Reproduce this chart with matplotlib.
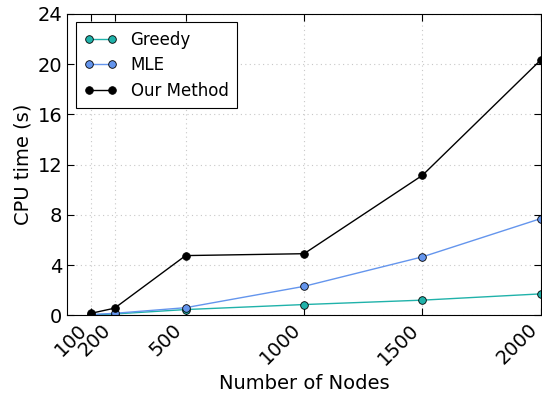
import matplotlib.pyplot as plt

nodes = [100, 200, 500, 1000, 1500, 2000]
greedy = [0.03, 0.1, 0.45, 0.85, 1.2, 1.7]
mle = [0.05, 0.15, 0.6, 2.3, 4.65, 7.7]
our_method = [0.15, 0.56, 4.75, 4.9, 11.15, 20.35]

plt.rcParams['xtick.direction'] = 'in'
plt.rcParams['ytick.direction'] = 'in'

fig = plt.figure(figsize=(5.42, 3.99), dpi=100)
ax = fig.add_axes([0.124, 0.21, 0.874, 0.755])

ax.plot(nodes, greedy, color='#20b2aa', marker='o', markersize=5.5,
        markeredgecolor='black', markeredgewidth=0.6, linewidth=1, label='Greedy')
ax.plot(nodes, mle, color='#6495ed', marker='o', markersize=5.5,
        markeredgecolor='black', markeredgewidth=0.6, linewidth=1, label='MLE')
ax.plot(nodes, our_method, color='black', marker='o', markersize=5.5,
        markeredgecolor='black', markeredgewidth=0.6, linewidth=1, label='Our Method')

ax.set_xlim(0, 2000)
ax.set_ylim(0, 24)
ax.set_xticks(nodes)
ax.set_xticklabels([str(n) for n in nodes], rotation=45, ha='right', fontsize=14)
ax.set_yticks(range(0, 25, 4))
ax.tick_params(axis='y', labelsize=14)
ax.tick_params(top=True, right=True, length=5)
ax.grid(True, linestyle=(0, (1, 3)), color='#c8c8c8', linewidth=0.8)

ax.set_xlabel('Number of Nodes', fontsize=14)
ax.set_ylabel('CPU time (s)', fontsize=14)

leg = ax.legend(loc='upper left', fontsize=12, fancybox=False, framealpha=1,
                edgecolor='black', borderpad=0.5, labelspacing=0.45, numpoints=2)
leg.get_frame().set_linewidth(0.8)

fig.savefig('out.png', dpi=100)
